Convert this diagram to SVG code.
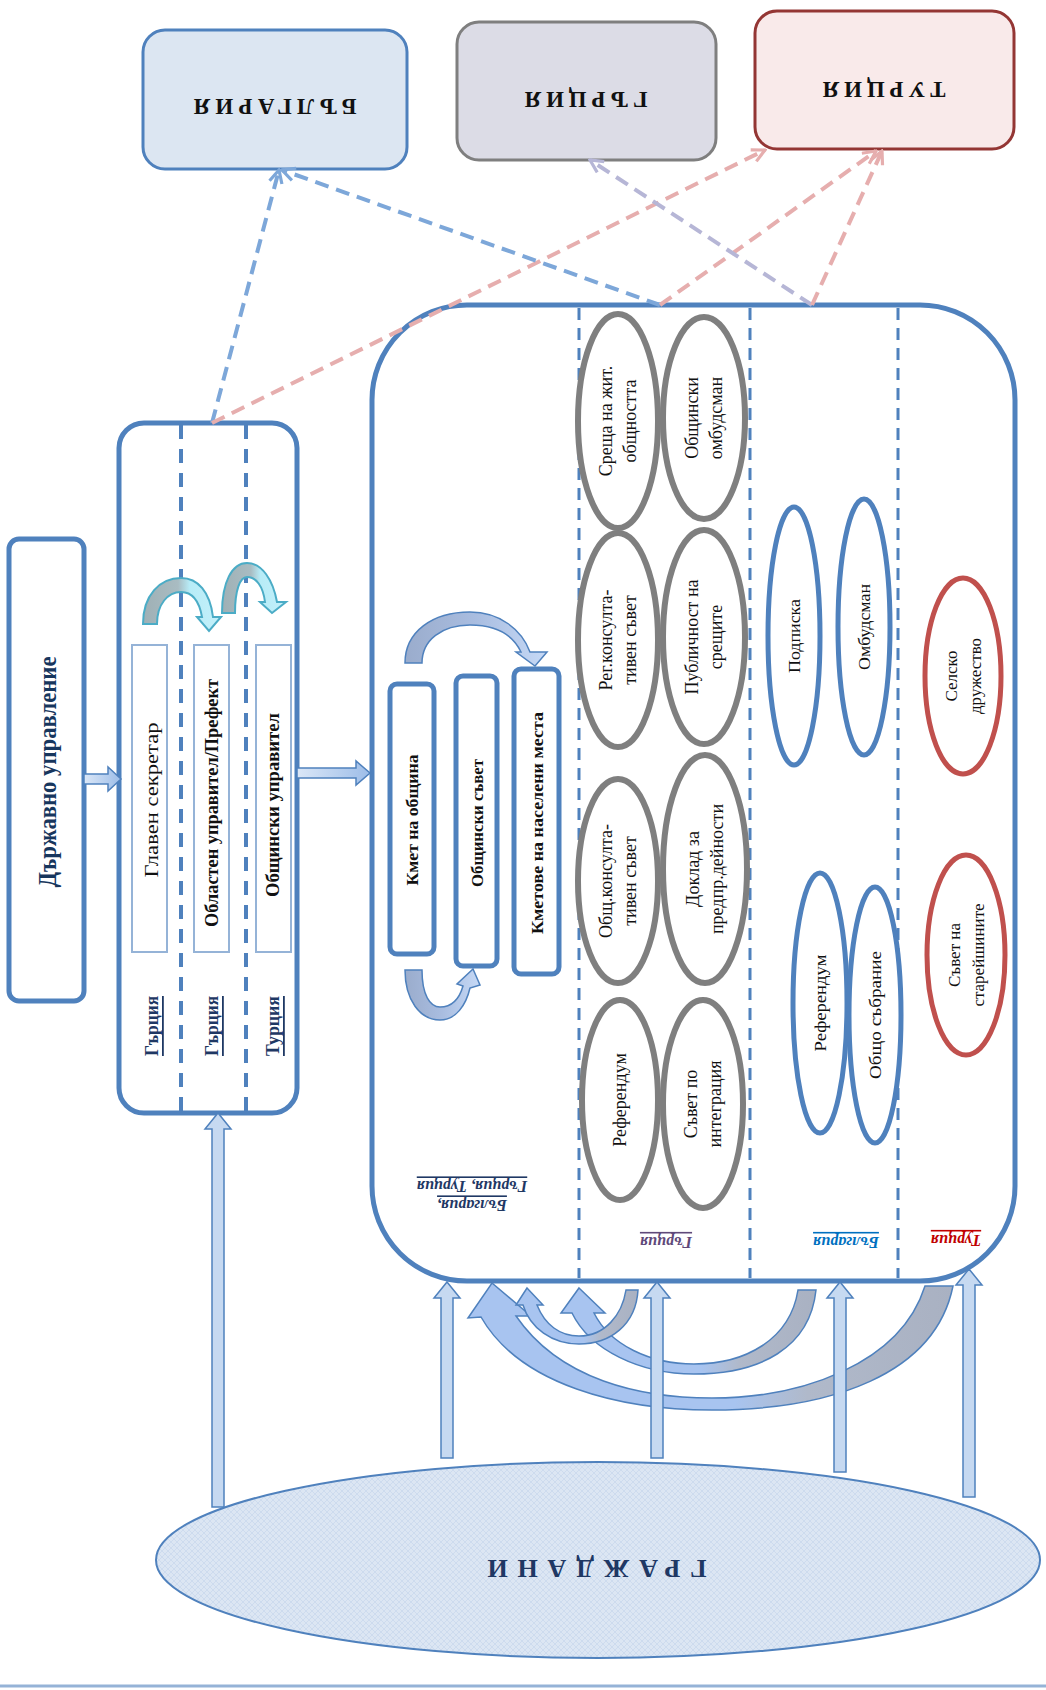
<svg xmlns="http://www.w3.org/2000/svg" width="1046" height="1690" viewBox="0 0 1046 1690">
<style>
text{font-family:"Liberation Serif","Times New Roman",serif;fill:#111}
.panel{fill:#fff;stroke:#4f81bd;stroke-width:5}
.div{stroke:#4f81bd;stroke-width:3;stroke-dasharray:12 8;fill:none}
.inner{fill:#fff;stroke:#95b3d7;stroke-width:2}
.kbox{fill:#fff;stroke:#4f81bd;stroke-width:5}
.gE{fill:#fff;stroke:#7f7f7f;stroke-width:6}
.bE{fill:#fff;stroke:#4f81bd;stroke-width:5}
.rE{fill:#fff;stroke:#c0504d;stroke-width:5}
.et{font-size:18px}
.bt{font-size:17px}
.kt{font-size:17px;font-weight:bold}
.lab{font-size:18px;font-weight:bold;text-decoration:underline}
.clab{font-size:16px;font-weight:bold;font-style:italic;text-decoration:underline}
.dash{fill:none;stroke-width:4;stroke-dasharray:14 8}
.varr{fill:#c6d9f1;stroke:#4f81bd;stroke-width:1.5}
.curv{stroke:#4f81bd;stroke-width:1.5}
.top{font-size:23px;font-weight:bold}
</style>
<defs>
<marker id="mB" viewBox="0 0 10 10" refX="9" refY="5" markerWidth="16" markerHeight="16" markerUnits="userSpaceOnUse" orient="auto"><path d="M1,1 L9,5 L1,9" fill="none" stroke="#7da7d9" stroke-width="2"/></marker>
<marker id="mR" viewBox="0 0 10 10" refX="9" refY="5" markerWidth="16" markerHeight="16" markerUnits="userSpaceOnUse" orient="auto"><path d="M1,1 L9,5 L1,9" fill="none" stroke="#e6aeae" stroke-width="2"/></marker>
<marker id="mL" viewBox="0 0 10 10" refX="9" refY="5" markerWidth="16" markerHeight="16" markerUnits="userSpaceOnUse" orient="auto"><path d="M1,1 L9,5 L1,9" fill="none" stroke="#b6b6d6" stroke-width="2"/></marker>
<linearGradient id="tealG" x1="0" y1="0" x2="1" y2="0"><stop offset="0" stop-color="#9fb0b5"/><stop offset="0.45" stop-color="#a9bcc2"/><stop offset="0.6" stop-color="#b7ecf7"/><stop offset="1" stop-color="#c4f0fa"/></linearGradient>
<linearGradient id="kG" x1="0" y1="0" x2="1" y2="0"><stop offset="0" stop-color="#9aaccc"/><stop offset="0.5" stop-color="#a9bde0"/><stop offset="1" stop-color="#c6d9f6"/></linearGradient>
<linearGradient id="hG" x1="0" y1="0" x2="1" y2="0"><stop offset="0" stop-color="#dbe7f7"/><stop offset="1" stop-color="#9dbde8"/></linearGradient>
<linearGradient id="arcG" x1="0" y1="0" x2="1" y2="0"><stop offset="0" stop-color="#a8c4f0"/><stop offset="0.55" stop-color="#a8c4f0"/><stop offset="0.7" stop-color="#b0b9ca"/><stop offset="1" stop-color="#a9b1c2"/></linearGradient>
<pattern id="dots" width="6" height="6" patternUnits="userSpaceOnUse"><rect width="6" height="6" fill="#dce6f3"/><path d="M0,3 L3,0 L6,3 L3,6 Z" fill="none" stroke="#c9d8ec" stroke-width="0.8"/></pattern>
</defs>

<g id="node-bulgaria">
<rect x="143" y="30" width="264" height="139" rx="22" fill="#dce6f2" stroke="#4f81bd" stroke-width="3"/>
<text class="top" transform="translate(275,106) rotate(180)" text-anchor="middle" dominant-baseline="central" textLength="163" lengthAdjust="spacing">БЪЛГАРИЯ</text>
</g>
<g id="node-greece">
<rect x="457" y="22" width="259" height="138" rx="22" fill="#dcdce6" stroke="#7f7f7f" stroke-width="3"/>
<text class="top" transform="translate(586,99) rotate(180)" text-anchor="middle" dominant-baseline="central" textLength="123" lengthAdjust="spacing">ГЪРЦИЯ</text>
</g>
<g id="node-turkey">
<rect x="755" y="11" width="259" height="138" rx="22" fill="#f9eaea" stroke="#943634" stroke-width="3"/>
<text class="top" transform="translate(884,89) rotate(180)" text-anchor="middle" dominant-baseline="central" textLength="123" lengthAdjust="spacing">ТУРЦИЯ</text>
</g>

<g id="node-state">
<rect x="9" y="539" width="75" height="462" rx="10" fill="#fff" stroke="#4f81bd" stroke-width="5"/>
<text transform="translate(47,772) rotate(-90)" text-anchor="middle" dominant-baseline="central" font-size="25" font-weight="bold" style="fill:#17365d" textLength="231" lengthAdjust="spacingAndGlyphs">Държавно управление</text>
</g>

<g id="node-regional">
<rect x="119" y="423" width="178" height="690" rx="25" class="panel"/>
<line x1="181" y1="425" x2="181" y2="1111" class="div" style="stroke-width:4;stroke-dasharray:14 10"/>
<line x1="246" y1="425" x2="246" y2="1111" class="div" style="stroke-width:4;stroke-dasharray:14 10"/>
<rect x="132" y="645" width="35" height="307" class="inner"/>
<rect x="194" y="645" width="35" height="307" class="inner"/>
<rect x="256" y="645" width="35" height="307" class="inner"/>
<text transform="translate(151,800) rotate(-90)" text-anchor="middle" dominant-baseline="central" font-size="19" textLength="155" lengthAdjust="spacingAndGlyphs">Главен секретар</text>
<text transform="translate(212,803) rotate(-90)" text-anchor="middle" dominant-baseline="central" font-size="18" font-weight="bold" textLength="248" lengthAdjust="spacingAndGlyphs">Областен управител/Префект</text>
<text transform="translate(273,805) rotate(-90)" text-anchor="middle" dominant-baseline="central" font-size="18" font-weight="bold" textLength="184" lengthAdjust="spacingAndGlyphs">Общински управител</text>
<text class="lab" transform="translate(152,1026) rotate(-90)" text-anchor="middle" dominant-baseline="central" style="fill:#1f3864" textLength="60" lengthAdjust="spacingAndGlyphs">Гърция</text>
<text class="lab" transform="translate(212,1026) rotate(-90)" text-anchor="middle" dominant-baseline="central" style="fill:#1f3864" textLength="60" lengthAdjust="spacingAndGlyphs">Гърция</text>
<text class="lab" transform="translate(273,1026) rotate(-90)" text-anchor="middle" dominant-baseline="central" style="fill:#1f3864" textLength="60" lengthAdjust="spacingAndGlyphs">Турция</text>
<path d="M143,624 C143,595 160,578 181,578 C198,578 210,592 213,617 L221,617 L209,631 L197,617 L202,617 C199,600 192,592 181,592 C168,592 157,604 157,624 Z" fill="url(#tealG)" stroke="#4bacc6" stroke-width="2"/>
<path d="M222,613 C222,582 232,563 247,563 C262,563 273,580 277,602 L286,602 L272,613 L260,602 L265,602 C263,586 256,577 247,577 C240,577 235,590 235,613 Z" fill="url(#tealG)" stroke="#4bacc6" stroke-width="2"/>
</g>

<g id="node-local">
<rect x="372" y="305" width="643" height="976" rx="95" class="panel"/>
<line x1="579" y1="308" x2="579" y2="1278" class="div"/>
<line x1="750" y1="308" x2="750" y2="1278" class="div"/>
<line x1="898" y1="308" x2="898" y2="1278" class="div"/>
<rect x="390" y="684" width="44" height="270" rx="7" class="kbox"/>
<rect x="456" y="676" width="41" height="290" rx="7" class="kbox"/>
<rect x="514" y="669" width="45" height="305" rx="7" class="kbox"/>
<text class="kt" transform="translate(412,820) rotate(-90)" text-anchor="middle" dominant-baseline="central" textLength="131" lengthAdjust="spacingAndGlyphs">Кмет на община</text>
<text class="kt" transform="translate(477,823) rotate(-90)" text-anchor="middle" dominant-baseline="central" textLength="128" lengthAdjust="spacingAndGlyphs">Общински съвет</text>
<text class="kt" transform="translate(537,823) rotate(-90)" text-anchor="middle" dominant-baseline="central" textLength="222" lengthAdjust="spacingAndGlyphs">Кметове на населени места</text>
<path d="M405,663 C405,632 432,612 470,612 C500,612 522,630 530,652 L547,652 L535,666 L516,652 L521,652 C512,633 494,625 470,625 C442,625 422,640 422,663 Z" fill="url(#kG)" stroke="#4f81bd" stroke-width="1.5"/>
<path d="M405,970 C405,1000 420,1020 440,1020 C456,1020 466,1005 470,988 L480,985 L473,969 L457,984 L463,986 C459,1000 451,1007 440,1007 C430,1007 422,995 422,970 Z" fill="url(#kG)" stroke="#4f81bd" stroke-width="1.5"/>
<text class="clab" transform="translate(472,1206) rotate(180)" text-anchor="middle" dominant-baseline="central" style="fill:#1f3864"><tspan x="0" y="0">България,</tspan><tspan x="0" y="19">Гърция, Турция</tspan></text>
</g>

<g id="group-greece">
<ellipse cx="618" cy="421" rx="40" ry="107" class="gE"/>
<ellipse cx="704" cy="418" rx="41" ry="101" class="gE"/>
<ellipse cx="618" cy="640" rx="40" ry="107" class="gE"/>
<ellipse cx="704" cy="637" rx="41" ry="107" class="gE"/>
<ellipse cx="618" cy="881" rx="40" ry="102" class="gE"/>
<ellipse cx="705" cy="869" rx="42" ry="114" class="gE"/>
<ellipse cx="620" cy="1100" rx="38" ry="100" class="gE"/>
<ellipse cx="703" cy="1104" rx="40" ry="104" class="gE"/>
<text class="et" transform="translate(618,421) rotate(-90)" text-anchor="middle" dominant-baseline="central"><tspan x="0" y="-12">Среща на жит.</tspan><tspan x="0" y="12">общността</tspan></text>
<text class="et" transform="translate(704,418) rotate(-90)" text-anchor="middle" dominant-baseline="central"><tspan x="0" y="-12">Общински</tspan><tspan x="0" y="12">омбудсман</tspan></text>
<text class="et" transform="translate(618,640) rotate(-90)" text-anchor="middle" dominant-baseline="central"><tspan x="0" y="-12">Рег.консулта-</tspan><tspan x="0" y="12">тивен съвет</tspan></text>
<text class="et" transform="translate(704,637) rotate(-90)" text-anchor="middle" dominant-baseline="central"><tspan x="0" y="-12">Публичност на</tspan><tspan x="0" y="12">срещите</tspan></text>
<text class="et" transform="translate(618,881) rotate(-90)" text-anchor="middle" dominant-baseline="central"><tspan x="0" y="-12">Общ.консулта-</tspan><tspan x="0" y="12">тивен съвет</tspan></text>
<text class="et" transform="translate(705,869) rotate(-90)" text-anchor="middle" dominant-baseline="central"><tspan x="0" y="-12">Доклад за</tspan><tspan x="0" y="12">предпр.дейности</tspan></text>
<text class="et" transform="translate(620,1100) rotate(-90)" text-anchor="middle" dominant-baseline="central">Референдум</text>
<text class="et" transform="translate(703,1104) rotate(-90)" text-anchor="middle" dominant-baseline="central"><tspan x="0" y="-12">Съвет по</tspan><tspan x="0" y="12">интеграция</tspan></text>
<text class="clab" transform="translate(666,1242) rotate(180)" text-anchor="middle" dominant-baseline="central" style="fill:#5f497a">Гърция</text>
</g>

<g id="group-bulgaria">
<ellipse cx="794" cy="636" rx="26" ry="129" class="bE"/>
<ellipse cx="864" cy="627" rx="26" ry="128" class="bE"/>
<ellipse cx="820" cy="1003" rx="27" ry="130" class="bE"/>
<ellipse cx="875" cy="1015" rx="26" ry="128" class="bE"/>
<text class="bt" transform="translate(794,636) rotate(-90)" text-anchor="middle" dominant-baseline="central" textLength="74" lengthAdjust="spacingAndGlyphs">Подписка</text>
<text class="bt" transform="translate(864,627) rotate(-90)" text-anchor="middle" dominant-baseline="central" textLength="86" lengthAdjust="spacingAndGlyphs">Омбудсман</text>
<text class="bt" transform="translate(820,1003) rotate(-90)" text-anchor="middle" dominant-baseline="central" textLength="97" lengthAdjust="spacingAndGlyphs">Референдум</text>
<text class="bt" transform="translate(875,1015) rotate(-90)" text-anchor="middle" dominant-baseline="central" textLength="128" lengthAdjust="spacingAndGlyphs">Общо събрание</text>
<text class="clab" transform="translate(846,1242) rotate(180)" text-anchor="middle" dominant-baseline="central" style="fill:#0070c0">България</text>
</g>

<g id="group-turkey">
<ellipse cx="963" cy="676" rx="38" ry="98" class="rE"/>
<ellipse cx="966" cy="955" rx="39" ry="100" class="rE"/>
<text class="bt" transform="translate(963,676) rotate(-90)" text-anchor="middle" dominant-baseline="central"><tspan x="0" y="-12">Селско</tspan><tspan x="0" y="12">дружество</tspan></text>
<text class="bt" transform="translate(966,955) rotate(-90)" text-anchor="middle" dominant-baseline="central"><tspan x="0" y="-12">Съвет на</tspan><tspan x="0" y="12">старейшините</tspan></text>
<text class="clab" transform="translate(956,1240) rotate(180)" text-anchor="middle" dominant-baseline="central" style="fill:#c00000">Турция</text>
</g>

<g id="node-citizens">
<ellipse cx="598" cy="1560" rx="442" ry="98" fill="url(#dots)" stroke="#4f81bd" stroke-width="2"/>
<text transform="translate(597,1568) rotate(180)" text-anchor="middle" dominant-baseline="central" font-size="26" font-weight="bold" style="fill:#1f3864" textLength="219" lengthAdjust="spacing">ГРАЖДАНИ</text>
</g>

<g id="connectors">
<line x1="212" y1="423" x2="279" y2="170" class="dash" stroke="#7da7d9" marker-end="url(#mB)"/>
<line x1="212" y1="423" x2="765" y2="150" class="dash" stroke="#e6aeae" marker-end="url(#mR)"/>
<line x1="660" y1="305" x2="282" y2="170" class="dash" stroke="#7da7d9" marker-end="url(#mB)"/>
<line x1="660" y1="305" x2="876" y2="151" class="dash" stroke="#e6aeae" marker-end="url(#mR)"/>
<line x1="812" y1="305" x2="590" y2="160" class="dash" stroke="#b6b6d6" marker-end="url(#mL)"/>
<line x1="812" y1="305" x2="882" y2="151" class="dash" stroke="#e6aeae" marker-end="url(#mR)"/>
<path d="M84,774 L108,774 L108,767 L121,779 L108,791 L108,784 L84,784 Z" fill="url(#hG)" stroke="#4f81bd" stroke-width="1.5"/>
<path d="M297,768 L356,768 L356,761 L370,773 L356,785 L356,778 L297,778 Z" fill="url(#hG)" stroke="#4f81bd" stroke-width="1.5"/>
<path d="M492,1283 L531,1316 L516,1316 C560,1380 640,1398 712,1398 C800,1398 900,1365 925,1286 L953,1286 C935,1375 830,1410 712,1410 C620,1410 520,1385 481,1317 L468,1318 Z" fill="url(#arcG)" class="curv"/>
<path d="M579,1288 L605,1313 L594,1313 C610,1345 650,1364 694,1364 C745,1364 790,1340 798,1290 L816,1290 C810,1348 760,1374 694,1374 C640,1374 590,1350 572,1313 L561,1313 Z" fill="url(#arcG)" class="curv"/>
<path d="M527,1288 L543,1305 L537,1305 C545,1325 560,1336 579,1336 C605,1336 622,1315 626,1290 L638,1290 C636,1325 610,1344 579,1344 C552,1344 530,1328 523,1305 L516,1305 Z" fill="url(#arcG)" class="curv"/>
<path d="M212,1507 L212,1129 L205,1129 L218,1113 L231,1129 L224,1129 L224,1507 Z" class="varr"/>
<path d="M441,1458 L441,1298 L434,1298 L447,1282 L460,1298 L453,1298 L453,1458 Z" class="varr"/>
<path d="M651,1458 L651,1298 L644,1298 L657,1282 L670,1298 L663,1298 L663,1458 Z" class="varr"/>
<path d="M834,1472 L834,1298 L827,1298 L840,1282 L853,1298 L846,1298 L846,1472 Z" class="varr"/>
<path d="M963,1497 L963,1285 L956,1285 L969,1269 L982,1285 L975,1285 L975,1497 Z" class="varr"/>
</g>
<line x1="0" y1="1686" x2="1046" y2="1686" stroke="#95b3d7" stroke-width="3"/>
</svg>
